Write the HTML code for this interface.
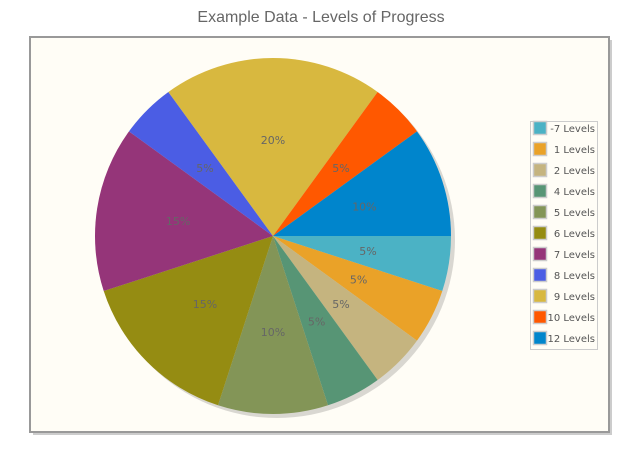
<!DOCTYPE html>
<html><head><meta charset="utf-8"><style>
body{margin:0;background:#fff;width:643px;height:453px;overflow:hidden;font-family:"DejaVu Sans","Liberation Sans",sans-serif}
</style></head><body>
<svg width="643" height="453">
<text x="321" y="22" text-anchor="middle" font-size="16" font-family="Liberation Sans, sans-serif" fill="#666">Example Data - Levels of Progress</text>
<rect x="33" y="40" width="579" height="395" fill="#ccc"/>
<rect x="30" y="37" width="579" height="395" fill="#fffdf6" stroke="#999" stroke-width="2"/>
<g id="pie"></g>
<g id="legend"></g>
</svg>
<script>
const categories=["-7 Levels","1 Levels","2 Levels","4 Levels","5 Levels","6 Levels","7 Levels","8 Levels","9 Levels","10 Levels","12 Levels"];
const values=[5,5,5,5,10,15,15,5,20,5,10];
const colors=["#4bb2c5","#eaa228","#c5b47f","#579575","#839557","#958c12","#953579","#4b5de4","#d8b83f","#ff5800","#0085cc"];
const NS="http://www.w3.org/2000/svg";
const cx=273,cy=236,R=178;
const pie=document.getElementById('pie'),leg=document.getElementById('legend');
const total=values.reduce((a,b)=>a+b,0);
function mk(t,a){const e=document.createElementNS(NS,t);for(const k in a)e.setAttribute(k,a[k]);return e;}
const sh=mk('circle',{cx:cx+4,cy:cy+4,r:R,fill:'#000','fill-opacity':0.15});


pie.appendChild(sh);
let a0=0;
values.forEach((v,i)=>{
  const a1=a0+v/total*2*Math.PI;
  const x0=cx+R*Math.cos(a0),y0=cy+R*Math.sin(a0),x1=cx+R*Math.cos(a1),y1=cy+R*Math.sin(a1);
  const p=mk('path',{d:`M${cx},${cy}L${x0},${y0}A${R},${R} 0 ${a1-a0>Math.PI?1:0} 1 ${x1},${y1}Z`,fill:colors[i]});
  
  
  pie.appendChild(p);
  const am=(a0+a1)/2;
  const t=mk('text',{x:cx+R*0.54*Math.cos(am),y:cy+R*0.54*Math.sin(am)+4,'text-anchor':'middle','font-size':11,fill:'#666'});
  t.textContent=Math.round(v/total*100)+'%';
  
  
  pie.appendChild(t);
  a0=a1;
});
const lb=mk('rect',{x:530.5,y:121.5,width:67,height:228,fill:'#fffdf6',stroke:'#ccc'});


leg.appendChild(lb);
categories.forEach((c,i)=>{
  const y=128+i*21;
  const s=mk('rect',{x:533.5,y:y-6.5,width:13,height:13,fill:colors[i],stroke:'#ccc','stroke-width':1.5});
  
  
  leg.appendChild(s);
  const t=mk('text',{x:595,y:y+4,'text-anchor':'end','font-size':10,fill:'#555'});
  t.textContent=c;
  
  
  leg.appendChild(t);
});
</script>
</body></html>
